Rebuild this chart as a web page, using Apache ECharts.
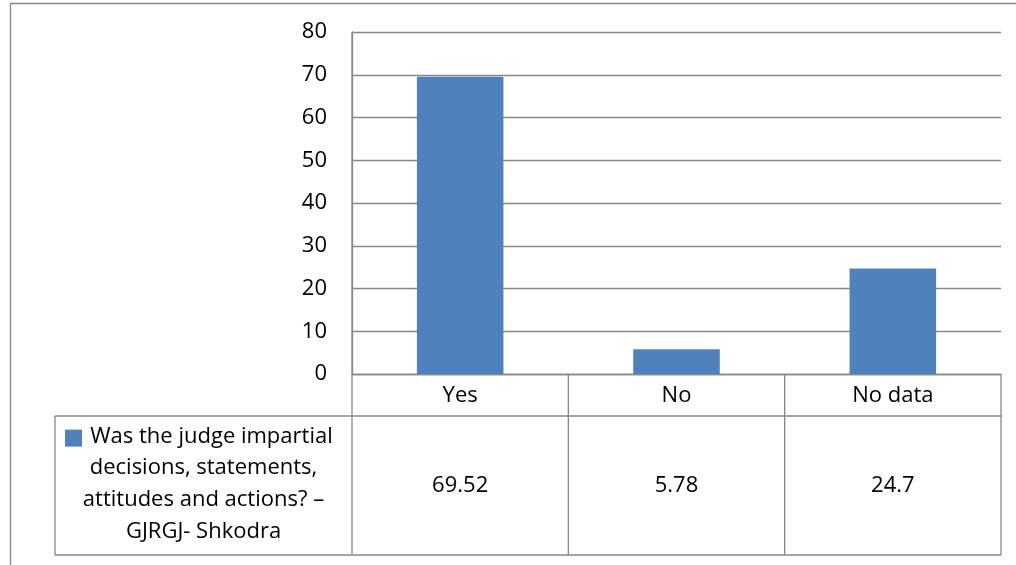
<!DOCTYPE html>
<html>
<head>
<meta charset="utf-8">
<script src="https://cdn.jsdelivr.net/npm/echarts@6/dist/echarts.min.js"></script>
<style>
html,body{margin:0;padding:0;background:#fff;}
#c{width:1016px;height:565px;}
</style>
</head>
<body>
<div id="c"></div>
<script>
const categories = ['Yes', 'No', 'No data'];
const values = [69.52, 5.78, 24.7];
const valueLabels = ['69.52', '5.78', '24.7'];
const seriesName = 'Was the judge impartial\ndecisions, statements,\nattitudes and actions? \u2013\nGJRGJ- Shkodra';
const yTicks = [0, 10, 20, 30, 40, 50, 60, 70, 80];

const FONT = '"Open Sans", "Noto Sans", sans-serif';
const FS = 22;
const LINE = '#878787';
const BAR = '#4f81bd';

const chart = echarts.init(document.getElementById('c'), null, {renderer: 'canvas'});

const option = {
  animation: false,
  backgroundColor: '#fff',
  textStyle: {fontFamily: FONT},
  grid: {left: 352, right: 15, top: 32, bottom: 191, containLabel: false},
  xAxis: {
    type: 'category',
    data: categories,
    axisLine: {show: true, lineStyle: {color: LINE, width: 1.3}},
    axisTick: {show: false},
    axisLabel: {color: '#000', fontSize: FS, fontFamily: FONT, margin: 11}
  },
  yAxis: {
    type: 'value',
    min: yTicks[0],
    max: yTicks[yTicks.length - 1],
    interval: 10,
    axisLine: {show: true, lineStyle: {color: LINE, width: 1.3}},
    axisTick: {show: false},
    axisLabel: {color: '#000', fontSize: FS, fontFamily: FONT, margin: 25},
    splitLine: {show: true, lineStyle: {color: LINE, width: 1.3}}
  },
  series: [{
    name: seriesName,
    type: 'bar',
    data: values,
    barWidth: '40%',
    itemStyle: {color: BAR}
  }]
};
chart.setOption(option);

// Data table below the plot, aligned with the category axis
const xs = categories.map((c) => chart.convertToPixel({xAxisIndex: 0}, c));
const band = xs.length > 1 ? xs[1] - xs[0] : 216;
const y0 = chart.convertToPixel({yAxisIndex: 0}, 0);
const yTop = chart.convertToPixel({yAxisIndex: 0}, yTicks[yTicks.length - 1]);
const rowSplit = y0 + 42;
const tableBottom = 555;
const legendLeft = 55;
const left = xs[0] - band / 2;
const right = xs[xs.length - 1] + band / 2;

const lineStyle = {stroke: LINE, lineWidth: 1.3};
const els = [];
// outer chart border
els.push({type: 'rect', shape: {x: 10.5, y: 3.5, width: 1100, height: 700}, style: {fill: null, stroke: LINE, lineWidth: 1.3}, silent: true});
// horizontal lines
els.push({type: 'line', shape: {x1: legendLeft, y1: rowSplit, x2: right, y2: rowSplit}, style: lineStyle});
els.push({type: 'line', shape: {x1: legendLeft, y1: tableBottom, x2: right, y2: tableBottom}, style: lineStyle});
// vertical lines
els.push({type: 'line', shape: {x1: legendLeft, y1: rowSplit, x2: legendLeft, y2: tableBottom}, style: lineStyle});
for (let i = 0; i <= categories.length; i++) {
  const x = left + i * band;
  els.push({type: 'line', shape: {x1: x, y1: i === 0 ? yTop : y0, x2: x, y2: tableBottom}, style: lineStyle});
}
// values
const midRow = (rowSplit + tableBottom) / 2;
valueLabels.forEach((v, i) => {
  els.push({type: 'text', x: xs[i], y: midRow, style: {text: v, fill: '#000', font: FS + 'px ' + FONT, textAlign: 'center', textVerticalAlign: 'middle'}});
});
// legend cell
const lines = seriesName.split('\n');
const lh = 31.6;
const cx = (legendLeft + left) / 2;
const startY = midRow - 1.5 - (lines.length - 1) * lh / 2;
lines.forEach((t, i) => {
  els.push({type: 'text', x: i === 0 ? cx + 8 : cx, y: startY + i * lh, style: {text: t, fill: '#000', font: FS + 'px ' + FONT, textAlign: 'center', textVerticalAlign: 'middle'}});
});
els.push({type: 'rect', shape: {x: 65, y: startY - 7, width: 17, height: 17}, style: {fill: BAR}});

chart.setOption({graphic: {elements: els}});
</script>
</body>
</html>
